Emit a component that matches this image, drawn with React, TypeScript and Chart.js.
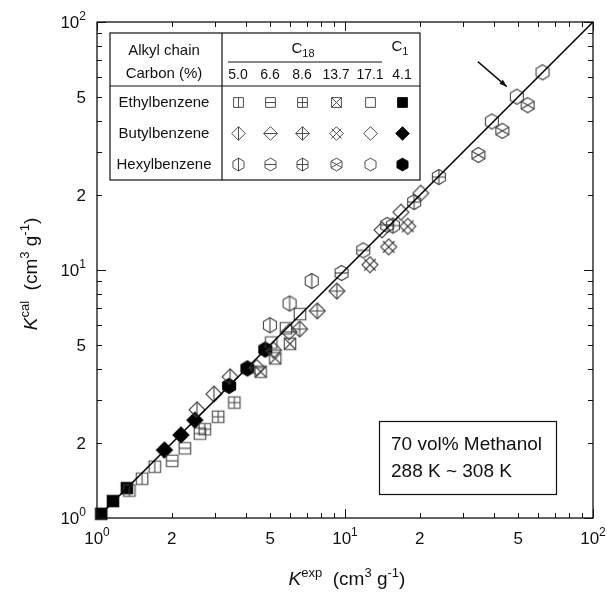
import React, { useEffect, useRef } from "react";
import { Chart, registerables } from "chart.js";
Chart.register(...registerables);

// ---------- Data (K_exp, K_cal) ----------
// Ethylbenzene (squares)
const ethC18_50_x = [1.35, 1.52, 1.71];
const ethC18_50_y = [1.29, 1.44, 1.61];
const ethC18_66_x = [2.01, 2.26, 2.6];
const ethC18_66_y = [1.7, 1.91, 2.19];
const ethC18_86_x = [2.72, 3.08, 3.58];
const ethC18_86_y = [2.28, 2.56, 2.92];
const ethC18_137_x = [4.57, 5.23, 6.0];
const ethC18_137_y = [3.89, 4.4, 5.04];
const ethC18_171_x = [5.04, 5.78, 6.58];
const ethC18_171_y = [5.1, 5.82, 6.64];
const ethC1_41_x = [1.04, 1.16, 1.32];
const ethC1_41_y = [1.04, 1.17, 1.32];
// Butylbenzene (diamonds)
const butC18_50_x = [2.53, 2.96, 3.44];
const butC18_50_y = [2.73, 3.16, 3.71];
const butC18_66_x = [4.41, 5.15, 5.95];
const butC18_66_y = [4.04, 4.75, 5.63];
const butC18_86_x = [6.56, 7.73, 9.27];
const butC18_86_y = [5.78, 6.84, 8.22];
const butC18_137_x = [12.6, 15.0, 17.9];
const butC18_137_y = [10.5, 12.4, 15.0];
const butC18_171_x = [14.1, 16.8, 20.2];
const butC18_171_y = [14.5, 17.1, 20.4];
const butC1_41_x = [1.87, 2.18, 2.48];
const butC1_41_y = [1.88, 2.16, 2.48];
// Hexylbenzene (hexagons)
const hexC18_50_x = [4.98, 5.98, 7.34];
const hexC18_50_y = [5.99, 7.33, 9.03];
const hexC18_66_x = [9.69, 11.84, 14.8];
const hexC18_66_y = [9.73, 12.0, 15.2];
const hexC18_86_x = [15.6, 19.0, 23.9];
const hexC18_86_y = [15.1, 18.8, 23.7];
const hexC18_137_x = [34.5, 43.1, 54.5];
const hexC18_137_y = [29.1, 36.4, 46.2];
const hexC18_171_x = [39.1, 49.3, 62.6];
const hexC18_171_y = [39.7, 50.0, 62.7];
const hexC1_41_x = [3.41, 4.04, 4.77];
const hexC1_41_y = [3.41, 4.01, 4.78];

// parity line
const parityLine = [1, 100];

// ---------- Axis / labels ----------
const majorTicks = [1, 10, 100];
const minorTicks = [2, 3, 4, 5, 6, 7, 8, 9, 20, 30, 40, 50, 60, 70, 80, 90];
const tickLabelValues = [1, 2, 5, 10, 20, 50, 100];
const tickLabelBase = ["10", "2", "5", "10", "2", "5", "10"];
const tickLabelExp = ["0", "", "", "1", "", "", "2"];
const carbonLabels = ["5.0", "6.6", "8.6", "13.7", "17.1", "4.1"];
const soluteNames = ["Ethylbenzene", "Butylbenzene", "Hexylbenzene"];
const shapes = ["square", "diamond", "hexagon"];
const patterns = ["v", "h", "plus", "x", "none", "fill"];

const FONT = "'Liberation Sans', Arial, Helvetica, sans-serif";

function makeMarker(shape: string, pattern: string, scale = 1): HTMLCanvasElement {
  const size = Math.ceil(24 * scale);
  const c = document.createElement("canvas");
  c.width = size;
  c.height = size;
  const ctx = c.getContext("2d")!;
  ctx.translate(size / 2, size / 2);
  ctx.scale(scale, scale);
  const filled = pattern === "fill";
  ctx.strokeStyle = filled ? "#000" : "#404040";
  ctx.fillStyle = "#000";
  ctx.lineWidth = 1.1;
  ctx.beginPath();
  let vTop = 0, hSide = 0;
  let xLines: number[][] = [];
  if (shape === "square") {
    const r = 5.75;
    ctx.rect(-r, -r, 2 * r, 2 * r);
    vTop = r; hSide = r;
    xLines = [[-r, -r, r, r], [-r, r, r, -r]];
  } else if (shape === "diamond") {
    const r = 8;
    ctx.moveTo(0, -r); ctx.lineTo(r, 0); ctx.lineTo(0, r); ctx.lineTo(-r, 0); ctx.closePath();
    vTop = r; hSide = r;
    const e = r * 0.72;
    xLines = [[-e, -e, e, e], [-e, e, e, -e]];
  } else {
    const r = 7.5;
    for (let i = 0; i < 6; i++) {
      const a = (Math.PI / 3) * i - Math.PI / 2;
      const px = r * Math.cos(a), py = r * Math.sin(a);
      if (i === 0) ctx.moveTo(px, py); else ctx.lineTo(px, py);
    }
    ctx.closePath();
    vTop = r; hSide = r * Math.cos(Math.PI / 6);
    const cx = r * Math.cos(Math.PI / 6), cy = r / 2;
    xLines = [[-cx, -cy, cx, cy], [-cx, cy, cx, -cy]];
  }
  if (filled) ctx.fill();
  ctx.stroke();
  ctx.beginPath();
  if (pattern === "v" || pattern === "plus") { ctx.moveTo(0, -vTop); ctx.lineTo(0, vTop); }
  if (pattern === "h" || pattern === "plus") { ctx.moveTo(-hSide, 0); ctx.lineTo(hSide, 0); }
  if (pattern === "x") {
    for (const l of xLines) { ctx.moveTo(l[0], l[1]); ctx.lineTo(l[2], l[3]); }
  }
  ctx.stroke();
  return c;
}

type Part = [string, number, number, boolean?];
function drawRich(ctx: CanvasRenderingContext2D, parts: Part[], x: number, y: number, align: string) {
  let w = 0;
  for (const p of parts) {
    ctx.font = `${p[3] ? "italic " : ""}${p[1]}px ${FONT}`;
    w += ctx.measureText(p[0]).width;
  }
  let cx = align === "left" ? x : align === "center" ? x - w / 2 : x - w;
  ctx.textAlign = "left";
  ctx.textBaseline = "alphabetic";
  for (const p of parts) {
    ctx.font = `${p[3] ? "italic " : ""}${p[1]}px ${FONT}`;
    ctx.fillText(p[0], cx, y + p[2]);
    cx += ctx.measureText(p[0]).width;
  }
}

export default function App() {
  const ref = useRef<HTMLCanvasElement>(null);
  useEffect(() => {
    const canvas = ref.current!;
    const seriesX = [
      [ethC18_50_x, ethC18_66_x, ethC18_86_x, ethC18_137_x, ethC18_171_x, ethC1_41_x],
      [butC18_50_x, butC18_66_x, butC18_86_x, butC18_137_x, butC18_171_x, butC1_41_x],
      [hexC18_50_x, hexC18_66_x, hexC18_86_x, hexC18_137_x, hexC18_171_x, hexC1_41_x],
    ];
    const seriesY = [
      [ethC18_50_y, ethC18_66_y, ethC18_86_y, ethC18_137_y, ethC18_171_y, ethC1_41_y],
      [butC18_50_y, butC18_66_y, butC18_86_y, butC18_137_y, butC18_171_y, butC1_41_y],
      [hexC18_50_y, hexC18_66_y, hexC18_86_y, hexC18_137_y, hexC18_171_y, hexC1_41_y],
    ];
    const datasets: any[] = [
      {
        type: "line",
        label: "parity",
        data: parityLine.map((v) => ({ x: v, y: v })),
        borderColor: "#000",
        borderWidth: 1.6,
        pointRadius: 0,
        clip: false,
      },
    ];
    const legendMarkers: HTMLCanvasElement[][] = [];
    for (let s = 0; s < 3; s++) {
      legendMarkers.push([]);
      for (let p = 0; p < 6; p++) {
        const xs = seriesX[s][p], ys = seriesY[s][p];
        datasets.push({
          type: "scatter",
          label: `${soluteNames[s]} ${carbonLabels[p]}`,
          data: xs.map((v, i) => ({ x: v, y: ys[i] })),
          pointStyle: makeMarker(shapes[s], patterns[p], 1),
          pointRadius: 6,
          clip: false,
        });
        legendMarkers[s].push(makeMarker(shapes[s], patterns[p], 0.85));
      }
    }

    const decor = {
      id: "decor",
      afterDatasetsDraw(chart: any) {
        const { ctx, chartArea: a, scales } = chart;
        const xs = scales.x, ys = scales.y;
        ctx.save();
        ctx.strokeStyle = "#111";
        ctx.lineWidth = 1.3;
        ctx.strokeRect(a.left, a.top, a.right - a.left, a.bottom - a.top);
        ctx.beginPath();
        const drawTicks = (vals: number[], len: number) => {
          for (const v of vals) {
            const px = Math.round(xs.getPixelForValue(v)) + 0.5;
            ctx.moveTo(px, a.bottom); ctx.lineTo(px, a.bottom - len);
            ctx.moveTo(px, a.top); ctx.lineTo(px, a.top + len);
            const py = Math.round(ys.getPixelForValue(v)) + 0.5;
            ctx.moveTo(a.left, py); ctx.lineTo(a.left + len, py);
            ctx.moveTo(a.right, py); ctx.lineTo(a.right - len, py);
          }
        };
        drawTicks(minorTicks, 5);
        drawTicks(majorTicks, 9);
        ctx.lineWidth = 1;
        ctx.stroke();

        // tick labels
        ctx.fillStyle = "#111";
        tickLabelValues.forEach((v, i) => {
          const parts: Part[] = [[tickLabelBase[i], 17, 0]];
          if (tickLabelExp[i]) parts.push([tickLabelExp[i], 12, -8]);
          const px = xs.getPixelForValue(v);
          drawRich(ctx, parts, px, a.bottom + 26, "center");
          const py = ys.getPixelForValue(v);
          drawRich(ctx, parts, a.left - 11, py + 6, "right");
        });

        // axis titles
        drawRich(
          ctx,
          [["K", 19, 0, true], ["exp", 13, -8], ["  (cm", 19, 0], ["3", 13, -8], [" g", 19, 0], ["-1", 13, -8], [")", 19, 0]],
          (a.left + a.right) / 2 + 2,
          585,
          "center"
        );
        ctx.save();
        ctx.translate(37, (a.top + a.bottom) / 2 + 4);
        ctx.rotate(-Math.PI / 2);
        drawRich(
          ctx,
          [["K", 19, 0, true], ["cal", 13, -8], ["  (cm", 19, 0], ["3", 13, -8], [" g", 19, 0], ["-1", 13, -8], [")", 19, 0]],
          0,
          0,
          "center"
        );
        ctx.restore();

        // legend table
        const L = 110, T = 33, R = 420, B = 180;
        ctx.fillStyle = "#fff";
        ctx.fillRect(L, T, R - L, B - T);
        ctx.strokeStyle = "#111";
        ctx.lineWidth = 1.2;
        ctx.strokeRect(L, T, R - L, B - T);
        ctx.beginPath();
        ctx.moveTo(222, T); ctx.lineTo(222, B);
        ctx.moveTo(L, 86); ctx.lineTo(R, 86);
        ctx.stroke();
        ctx.lineWidth = 1;
        ctx.beginPath();
        ctx.moveTo(228, 62); ctx.lineTo(382, 62);
        ctx.stroke();
        ctx.fillStyle = "#111";
        drawRich(ctx, [["Alkyl chain", 15, 0]], 164, 55, "center");
        drawRich(ctx, [["Carbon (%)", 15, 0]], 164, 78, "center");
        drawRich(ctx, [["C", 15, 0], ["18", 11, 4]], 303, 53, "center");
        drawRich(ctx, [["C", 15, 0], ["1", 11, 4]], 400, 51, "center");
        const cols = [238, 270, 302, 336, 370, 402];
        const rows = [102, 133, 164];
        cols.forEach((cx, i) => drawRich(ctx, [[carbonLabels[i], 14, 0]], cx, 79, "center"));
        rows.forEach((ry, s) => {
          drawRich(ctx, [[soluteNames[s], 15, 0]], 164, ry + 5, "center");
          cols.forEach((cx, p) => {
            const m = legendMarkers[s][p];
            ctx.drawImage(m, Math.round(cx - m.width / 2), Math.round(ry - m.height / 2));
          });
        });

        // condition box
        ctx.strokeStyle = "#111";
        ctx.lineWidth = 1.2;
        ctx.strokeRect(379.5, 421.5, 177, 73);
        drawRich(ctx, [["70 vol% Methanol", 19, 0]], 391, 450, "left");
        drawRich(ctx, [["288 K ~ 308 K", 19, 0]], 391, 477, "left");

        // arrow pointing to a data point
        const tx = xs.getPixelForValue(hexC18_171_x[1]) - 10;
        const ty = ys.getPixelForValue(hexC18_171_y[1]) - 10;
        const sx = tx - 29, sy = ty - 25;
        ctx.strokeStyle = "#111";
        ctx.lineWidth = 1.5;
        ctx.beginPath();
        ctx.moveTo(sx, sy);
        ctx.lineTo(tx, ty);
        ctx.stroke();
        const ang = Math.atan2(ty - sy, tx - sx);
        ctx.fillStyle = "#111";
        ctx.beginPath();
        ctx.moveTo(tx, ty);
        ctx.lineTo(tx - 8 * Math.cos(ang - 0.35), ty - 8 * Math.sin(ang - 0.35));
        ctx.lineTo(tx - 8 * Math.cos(ang + 0.35), ty - 8 * Math.sin(ang + 0.35));
        ctx.closePath();
        ctx.fill();
        ctx.restore();
      },
    };

    const chart = new Chart(canvas, {
      type: "scatter",
      data: { datasets },
      options: {
        animation: false,
        responsive: false,
        maintainAspectRatio: false,
        layout: { padding: { left: 97, right: 14, top: 22, bottom: 74 } },
        plugins: { legend: { display: false }, tooltip: { enabled: false } },
        scales: {
          x: { type: "logarithmic", min: 1, max: 100, display: false },
          y: { type: "logarithmic", min: 1, max: 100, display: false },
        },
      },
      plugins: [decor],
    } as any);
    return () => chart.destroy();
  }, []);
  return (
    <div style={{ position: "absolute", left: 0, top: 0, width: 607, height: 592, background: "#fff" }}>
      <canvas ref={ref} width={607} height={592} />
    </div>
  );
}
